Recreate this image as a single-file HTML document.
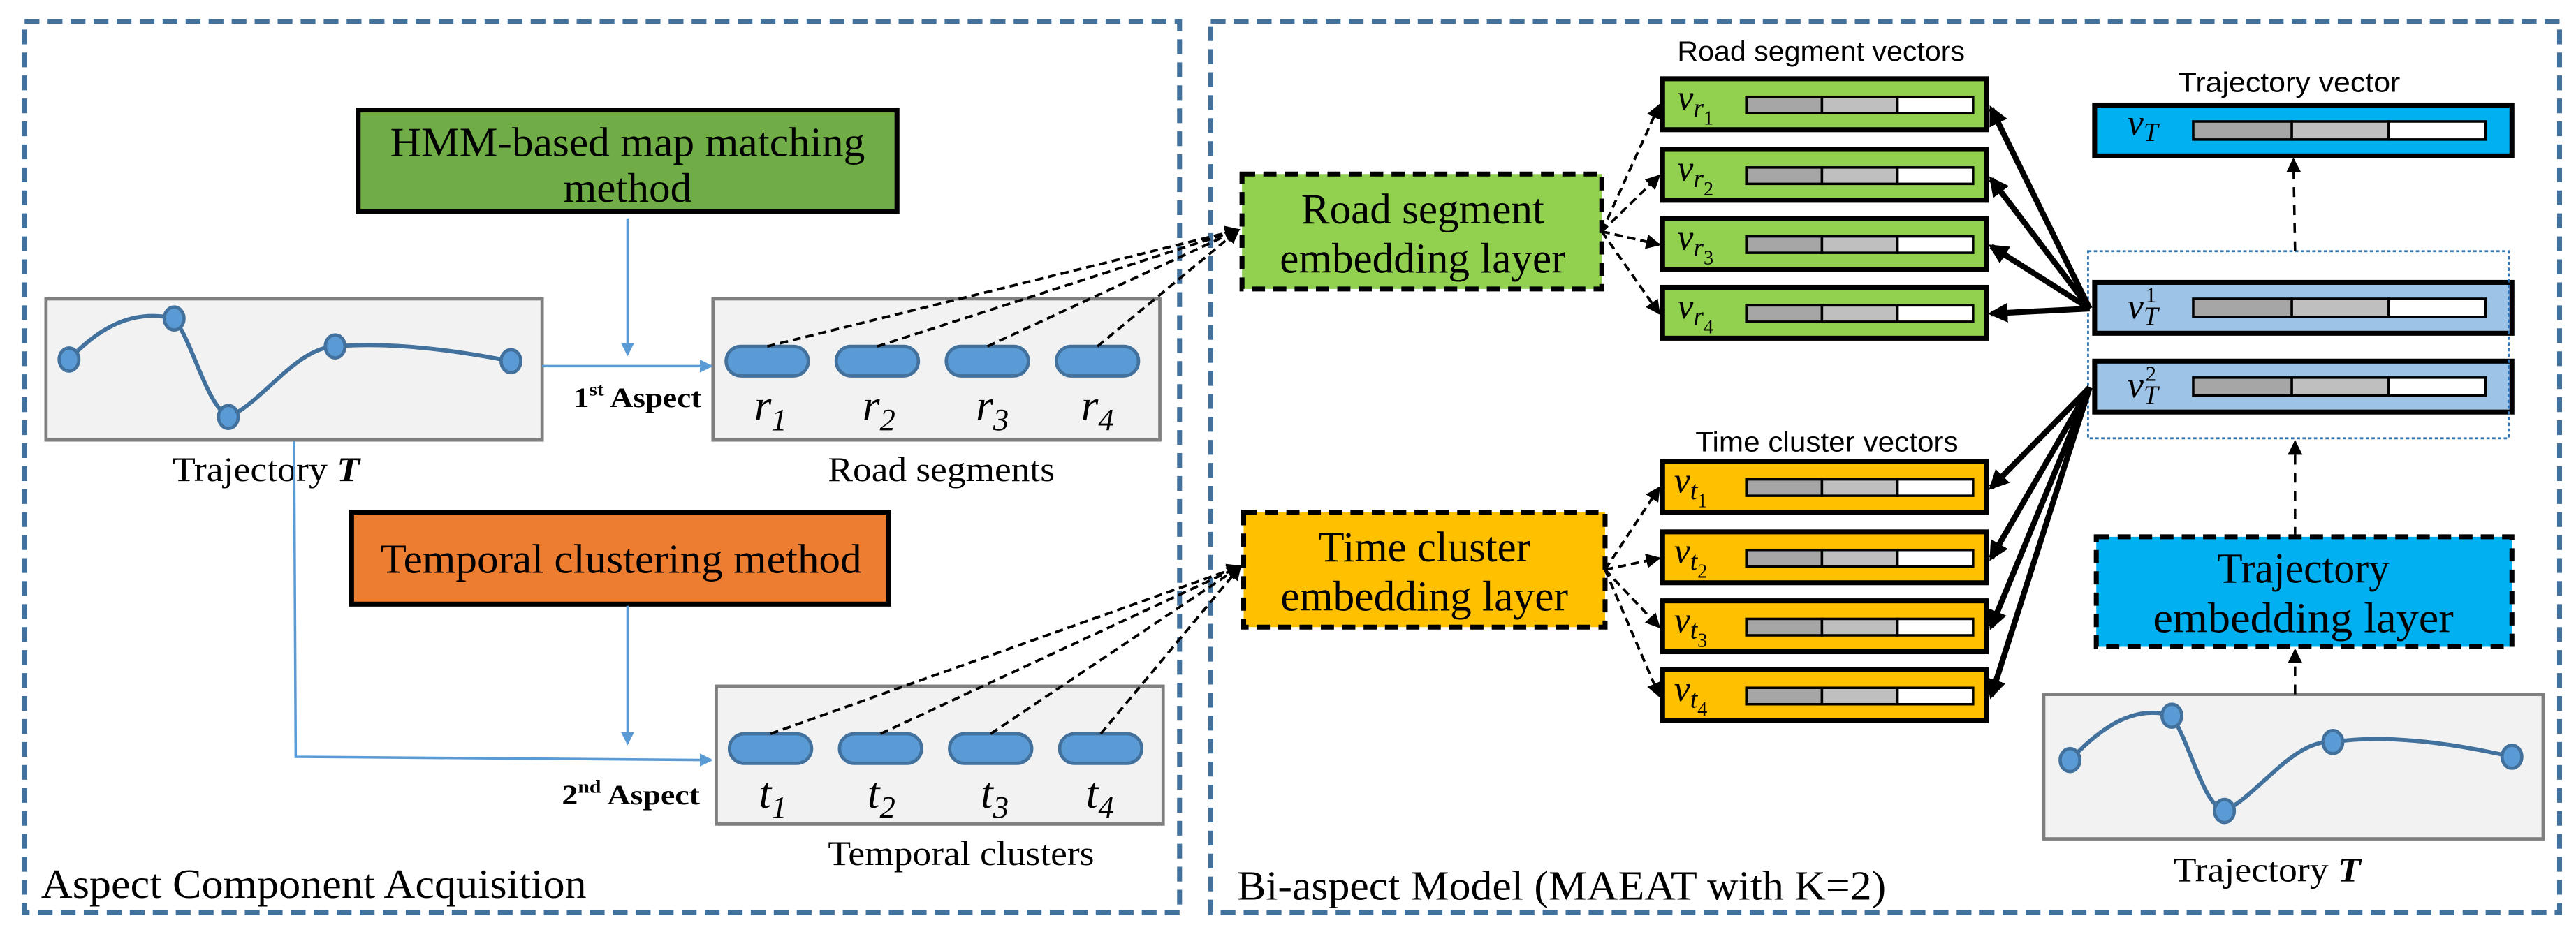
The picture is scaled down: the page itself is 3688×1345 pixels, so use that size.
<!DOCTYPE html>
<html><head><meta charset="utf-8"><style>
html,body{margin:0;padding:0;background:#fff}
svg{display:block}
</style></head><body>
<svg width="3688" height="1345" viewBox="0 0 1568 572" preserveAspectRatio="none" xmlns="http://www.w3.org/2000/svg">
<defs>
<marker id="ab" markerWidth="8" markerHeight="8" refX="7" refY="4" orient="auto" markerUnits="userSpaceOnUse"><path d="M0,0 L8,4 L0,8 z" fill="#5b9bd5"/></marker>
<marker id="ak" markerWidth="9" markerHeight="9" refX="8" refY="4.5" orient="auto" markerUnits="userSpaceOnUse"><path d="M0,0 L9,4.5 L0,9 z" fill="#000"/></marker>
<marker id="akb" markerWidth="12" markerHeight="12" refX="10" refY="6" orient="auto" markerUnits="userSpaceOnUse"><path d="M0,0 L12,6 L0,12 z" fill="#000"/></marker>
</defs>
<rect width="1568" height="572" fill="#fff"/>
<rect x="15" y="13" width="703" height="543" fill="none" stroke="#41719c" stroke-width="3" stroke-dasharray="9,5"/>
<rect x="737" y="13" width="821" height="543" fill="none" stroke="#41719c" stroke-width="3" stroke-dasharray="9,5"/>

<g font-family="'Liberation Serif','Times New Roman','DejaVu Serif',serif">
<!-- LEFT PANEL -->
<rect x="218" y="67" width="328" height="62" fill="#70ad47" stroke="#000" stroke-width="3"/>
<text x="382" y="95" font-size="25" text-anchor="middle" textLength="289" lengthAdjust="spacingAndGlyphs">HMM-based map matching</text>
<text x="382" y="123" font-size="25" text-anchor="middle" textLength="78" lengthAdjust="spacingAndGlyphs">method</text>

<rect x="28" y="182" width="302" height="86" fill="#f2f2f2" stroke="#7f7f7f" stroke-width="2"/>
<path d="M42,219 C60,200 80,188 106,194 C118,210 125,245 139,254 C160,245 180,212 204,211 C240,208 280,214 311,220" fill="none" stroke="#41719c" stroke-width="2.5"/>
<g fill="#5b9bd5" stroke="#41719c" stroke-width="2">
<ellipse cx="42" cy="219" rx="6" ry="7"/><ellipse cx="106" cy="194" rx="6" ry="7"/><ellipse cx="139" cy="254" rx="6" ry="7"/><ellipse cx="204" cy="211" rx="6" ry="7"/><ellipse cx="311" cy="220" rx="6" ry="7"/>
</g>
<text x="105" y="293" font-size="21" textLength="114" lengthAdjust="spacingAndGlyphs">Trajectory <tspan font-style="italic" font-weight="bold">T</tspan></text>

<rect x="434" y="182" width="272" height="86" fill="#f2f2f2" stroke="#7f7f7f" stroke-width="2"/>
<g fill="#5b9bd5" stroke="#41719c" stroke-width="2">
<rect x="442" y="211" width="50" height="18" rx="9"/><rect x="509" y="211" width="50" height="18" rx="9"/><rect x="576" y="211" width="50" height="18" rx="9"/><rect x="643" y="211" width="50" height="18" rx="9"/>
</g>
<g font-size="27" font-style="italic">
<text x="459" y="256">r<tspan font-size="19" dy="6">1</tspan></text>
<text x="525" y="256">r<tspan font-size="19" dy="6">2</tspan></text>
<text x="594" y="256">r<tspan font-size="19" dy="6">3</tspan></text>
<text x="658" y="256">r<tspan font-size="19" dy="6">4</tspan></text>
</g>
<text x="504" y="293" font-size="21" textLength="138" lengthAdjust="spacingAndGlyphs">Road segments</text>

<rect x="214" y="312" width="327" height="56" fill="#ed7d31" stroke="#000" stroke-width="3"/>
<text x="378" y="349" font-size="25" text-anchor="middle" textLength="293" lengthAdjust="spacingAndGlyphs">Temporal clustering method</text>

<rect x="436" y="418" width="272" height="84" fill="#f2f2f2" stroke="#7f7f7f" stroke-width="2"/>
<g fill="#5b9bd5" stroke="#41719c" stroke-width="2">
<rect x="444" y="447" width="50" height="18" rx="9"/><rect x="511" y="447" width="50" height="18" rx="9"/><rect x="578" y="447" width="50" height="18" rx="9"/><rect x="645" y="447" width="50" height="18" rx="9"/>
</g>
<g font-size="27" font-style="italic">
<text x="462" y="492">t<tspan font-size="19" dy="6">1</tspan></text>
<text x="528" y="492">t<tspan font-size="19" dy="6">2</tspan></text>
<text x="597" y="492">t<tspan font-size="19" dy="6">3</tspan></text>
<text x="661" y="492">t<tspan font-size="19" dy="6">4</tspan></text>
</g>
<text x="504" y="527" font-size="21" textLength="162" lengthAdjust="spacingAndGlyphs">Temporal clusters</text>

<g stroke="#5b9bd5" stroke-width="1.5" fill="none">
<line x1="382" y1="133" x2="382" y2="216" marker-end="url(#ab)"/>
<line x1="330" y1="223" x2="433" y2="223" marker-end="url(#ab)"/>
<line x1="382" y1="369" x2="382" y2="453" marker-end="url(#ab)"/>
<polyline points="179,269 180,461 433,463" marker-end="url(#ab)"/>
</g>
<text x="349" y="248" font-size="17" font-weight="bold" textLength="78" lengthAdjust="spacingAndGlyphs">1<tspan font-size="11" dy="-7">st</tspan><tspan dy="7"> Aspect</tspan></text>
<text x="342" y="490" font-size="17" font-weight="bold" textLength="84" lengthAdjust="spacingAndGlyphs">2<tspan font-size="11" dy="-7">nd</tspan><tspan dy="7"> Aspect</tspan></text>

<text x="25" y="547" font-size="25" textLength="332" lengthAdjust="spacingAndGlyphs">Aspect Component  Acquisition</text>

<g stroke="#000" stroke-width="1.6" stroke-dasharray="5,3" fill="none">
<line x1="467" y1="211" x2="754" y2="140" marker-end="url(#ak)"/>
<line x1="534" y1="211" x2="754" y2="140" marker-end="url(#ak)"/>
<line x1="601" y1="211" x2="754" y2="140" marker-end="url(#ak)"/>
<line x1="668" y1="211" x2="754" y2="140" marker-end="url(#ak)"/>
<line x1="469" y1="447" x2="755" y2="345" marker-end="url(#ak)"/>
<line x1="536" y1="447" x2="755" y2="345" marker-end="url(#ak)"/>
<line x1="603" y1="447" x2="755" y2="345" marker-end="url(#ak)"/>
<line x1="670" y1="447" x2="755" y2="345" marker-end="url(#ak)"/>
</g>

<!-- RIGHT PANEL -->
<rect x="756" y="106" width="219" height="70" fill="#92d050" stroke="#000" stroke-width="3" stroke-dasharray="8,5"/>
<text x="866" y="136" font-size="26" text-anchor="middle" textLength="148" lengthAdjust="spacingAndGlyphs">Road segment</text>
<text x="866" y="166" font-size="26" text-anchor="middle" textLength="174" lengthAdjust="spacingAndGlyphs">embedding layer</text>
<rect x="757" y="312" width="220" height="70" fill="#ffc000" stroke="#000" stroke-width="3" stroke-dasharray="8,5"/>
<text x="867" y="342" font-size="26" text-anchor="middle" textLength="129" lengthAdjust="spacingAndGlyphs">Time cluster</text>
<text x="867" y="372" font-size="26" text-anchor="middle" textLength="175" lengthAdjust="spacingAndGlyphs">embedding layer</text>
</g>

<g font-family="'Liberation Sans','DejaVu Sans',sans-serif">
<text x="1021" y="37" font-size="17" textLength="175" lengthAdjust="spacingAndGlyphs">Road segment vectors</text>
<text x="1032" y="275" font-size="17" textLength="160" lengthAdjust="spacingAndGlyphs">Time cluster vectors</text>
<text x="1326" y="56" font-size="17" textLength="135" lengthAdjust="spacingAndGlyphs">Trajectory vector</text>
</g>

<g stroke="#000" stroke-width="3">
<rect x="1012" y="48" width="197" height="31" fill="#92d050"/>
<rect x="1012" y="91" width="197" height="31" fill="#92d050"/>
<rect x="1012" y="133" width="197" height="31" fill="#92d050"/>
<rect x="1012" y="175" width="197" height="31" fill="#92d050"/>
<rect x="1012" y="281" width="197" height="31" fill="#ffc000"/>
<rect x="1012" y="324" width="197" height="31" fill="#ffc000"/>
<rect x="1012" y="366" width="197" height="31" fill="#ffc000"/>
<rect x="1012" y="408" width="197" height="31" fill="#ffc000"/>
<rect x="1275" y="64" width="254" height="31" fill="#00b0f0"/>
<rect x="1275" y="172" width="254" height="31" fill="#9dc3e6"/>
<rect x="1275" y="220" width="254" height="31" fill="#9dc3e6"/>
</g>
<g stroke="#000" stroke-width="1.5">
<rect x="1063" y="59" width="46" height="10" fill="#a6a6a6"/><rect x="1109" y="59" width="46" height="10" fill="#bfbfbf"/><rect x="1155" y="59" width="46" height="10" fill="#fff"/>
<rect x="1063" y="102" width="46" height="10" fill="#a6a6a6"/><rect x="1109" y="102" width="46" height="10" fill="#bfbfbf"/><rect x="1155" y="102" width="46" height="10" fill="#fff"/>
<rect x="1063" y="144" width="46" height="10" fill="#a6a6a6"/><rect x="1109" y="144" width="46" height="10" fill="#bfbfbf"/><rect x="1155" y="144" width="46" height="10" fill="#fff"/>
<rect x="1063" y="186" width="46" height="10" fill="#a6a6a6"/><rect x="1109" y="186" width="46" height="10" fill="#bfbfbf"/><rect x="1155" y="186" width="46" height="10" fill="#fff"/>
<rect x="1063" y="292" width="46" height="10" fill="#a6a6a6"/><rect x="1109" y="292" width="46" height="10" fill="#bfbfbf"/><rect x="1155" y="292" width="46" height="10" fill="#fff"/>
<rect x="1063" y="335" width="46" height="10" fill="#a6a6a6"/><rect x="1109" y="335" width="46" height="10" fill="#bfbfbf"/><rect x="1155" y="335" width="46" height="10" fill="#fff"/>
<rect x="1063" y="377" width="46" height="10" fill="#a6a6a6"/><rect x="1109" y="377" width="46" height="10" fill="#bfbfbf"/><rect x="1155" y="377" width="46" height="10" fill="#fff"/>
<rect x="1063" y="419" width="46" height="10" fill="#a6a6a6"/><rect x="1109" y="419" width="46" height="10" fill="#bfbfbf"/><rect x="1155" y="419" width="46" height="10" fill="#fff"/>
<rect x="1335" y="74" width="60" height="11" fill="#a6a6a6"/><rect x="1395" y="74" width="59" height="11" fill="#bfbfbf"/><rect x="1454" y="74" width="59" height="11" fill="#fff"/>
<rect x="1335" y="182" width="60" height="11" fill="#a6a6a6"/><rect x="1395" y="182" width="59" height="11" fill="#bfbfbf"/><rect x="1454" y="182" width="59" height="11" fill="#fff"/>
<rect x="1335" y="230" width="60" height="11" fill="#a6a6a6"/><rect x="1395" y="230" width="59" height="11" fill="#bfbfbf"/><rect x="1454" y="230" width="59" height="11" fill="#fff"/>
</g>
<g font-family="'Liberation Serif','DejaVu Serif',serif" font-style="italic" font-size="22">
<text x="1021" y="67">v<tspan font-size="16" dy="4">r</tspan><tspan font-size="12" dy="5" font-style="normal">1</tspan></text>
<text x="1021" y="110">v<tspan font-size="16" dy="4">r</tspan><tspan font-size="12" dy="5" font-style="normal">2</tspan></text>
<text x="1021" y="152">v<tspan font-size="16" dy="4">r</tspan><tspan font-size="12" dy="5" font-style="normal">3</tspan></text>
<text x="1021" y="194">v<tspan font-size="16" dy="4">r</tspan><tspan font-size="12" dy="5" font-style="normal">4</tspan></text>
<text x="1019" y="300">v<tspan font-size="16" dy="4">t</tspan><tspan font-size="12" dy="5" font-style="normal">1</tspan></text>
<text x="1019" y="343">v<tspan font-size="16" dy="4">t</tspan><tspan font-size="12" dy="5" font-style="normal">2</tspan></text>
<text x="1019" y="385">v<tspan font-size="16" dy="4">t</tspan><tspan font-size="12" dy="5" font-style="normal">3</tspan></text>
<text x="1019" y="427">v<tspan font-size="16" dy="4">t</tspan><tspan font-size="12" dy="5" font-style="normal">4</tspan></text>
<text x="1295" y="82">v<tspan font-size="16" dy="4">T</tspan></text>
<text x="1295" y="194">v<tspan font-size="16" dy="4">T</tspan></text>
<text x="1306" y="184" font-size="13" font-style="normal">1</text>
<text x="1295" y="242">v<tspan font-size="16" dy="4">T</tspan></text>
<text x="1306" y="232" font-size="13" font-style="normal">2</text>
</g>

<rect x="1271" y="153" width="256" height="114" fill="none" stroke="#2e75b6" stroke-width="1.2" stroke-dasharray="2,1.5"/>

<g font-family="'Liberation Serif','Times New Roman','DejaVu Serif',serif">
<rect x="1276" y="327" width="253" height="67" fill="#00b0f0" stroke="#000" stroke-width="3" stroke-dasharray="8,5"/>
<text x="1402" y="355" font-size="26" text-anchor="middle" textLength="105" lengthAdjust="spacingAndGlyphs">Trajectory</text>
<text x="1402" y="385" font-size="26" text-anchor="middle" textLength="183" lengthAdjust="spacingAndGlyphs">embedding  layer</text>

<rect x="1244" y="423" width="304" height="88" fill="#f2f2f2" stroke="#7f7f7f" stroke-width="2"/>
<path d="M1260,463 C1279,443 1299,429 1322,436 C1334,455 1341,490 1354,494 C1374,485 1396,450 1420,452 C1454,447 1494,453 1529,461" fill="none" stroke="#41719c" stroke-width="2.5"/>
<g fill="#5b9bd5" stroke="#41719c" stroke-width="2">
<ellipse cx="1260" cy="463" rx="6" ry="7"/><ellipse cx="1322" cy="436" rx="6" ry="7"/><ellipse cx="1354" cy="494" rx="6" ry="7"/><ellipse cx="1420" cy="452" rx="6" ry="7"/><ellipse cx="1529" cy="461" rx="6" ry="7"/>
</g>
<text x="1323" y="537" font-size="21" textLength="114" lengthAdjust="spacingAndGlyphs">Trajectory <tspan font-style="italic" font-weight="bold">T</tspan></text>

<text x="753" y="548" font-size="25" textLength="395" lengthAdjust="spacingAndGlyphs">Bi-aspect Model (MAEAT with K=2)</text>
</g>

<g stroke="#000" stroke-width="1.5" stroke-dasharray="6,5" fill="none">
<line x1="1397" y1="423" x2="1397" y2="396" marker-end="url(#ak)"/>
<line x1="1397" y1="327" x2="1397" y2="269" marker-end="url(#ak)"/>
<line x1="1397" y1="153" x2="1396" y2="97" marker-end="url(#ak)"/>
</g>

<g stroke="#000" stroke-width="1.6" stroke-dasharray="5,3" fill="none">
<line x1="975" y1="141" x2="1010" y2="64" marker-end="url(#ak)"/>
<line x1="975" y1="141" x2="1010" y2="107" marker-end="url(#ak)"/>
<line x1="975" y1="141" x2="1010" y2="149" marker-end="url(#ak)"/>
<line x1="975" y1="141" x2="1010" y2="191" marker-end="url(#ak)"/>
<line x1="977" y1="347" x2="1010" y2="297" marker-end="url(#ak)"/>
<line x1="977" y1="347" x2="1010" y2="340" marker-end="url(#ak)"/>
<line x1="977" y1="347" x2="1010" y2="382" marker-end="url(#ak)"/>
<line x1="977" y1="347" x2="1010" y2="424" marker-end="url(#ak)"/>
</g>

<g stroke="#000" stroke-width="3.5" fill="none">
<line x1="1272" y1="188" x2="1212" y2="66" marker-end="url(#akb)"/>
<line x1="1272" y1="188" x2="1212" y2="109" marker-end="url(#akb)"/>
<line x1="1272" y1="188" x2="1212" y2="150" marker-end="url(#akb)"/>
<line x1="1272" y1="188" x2="1212" y2="191" marker-end="url(#akb)"/>
<line x1="1272" y1="236" x2="1212" y2="297" marker-end="url(#akb)"/>
<line x1="1272" y1="236" x2="1212" y2="340" marker-end="url(#akb)"/>
<line x1="1272" y1="236" x2="1212" y2="382" marker-end="url(#akb)"/>
<line x1="1272" y1="236" x2="1212" y2="424" marker-end="url(#akb)"/>
</g>
</svg>
</body></html>
